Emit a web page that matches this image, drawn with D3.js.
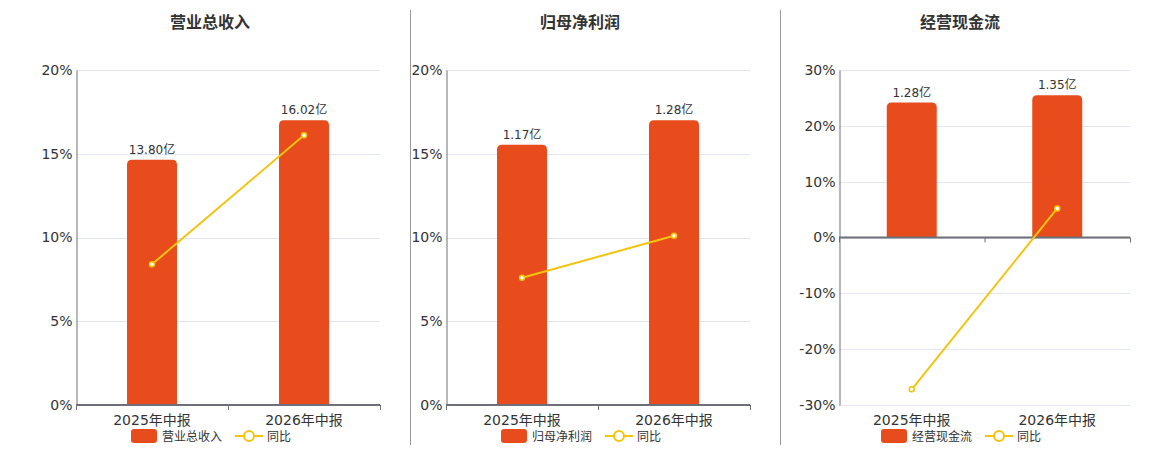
<!DOCTYPE html>
<html><head><meta charset="utf-8">
<script src="https://cdn.jsdelivr.net/npm/d3@7"></script>
<style>body{margin:0;background:#fff;}svg{display:block;font-family:"DejaVu Sans","Noto Sans CJK SC",sans-serif;}</style>
</head><body>
<svg id="c" width="1160" height="450"></svg>
<script>
const categories = ["2025年中报", "2026年中报"];
const titles = ["营业总收入", "归母净利润", "经营现金流"];
const barValues = [[13.80, 16.02], [1.17, 1.28], [1.28, 1.35]];
const barLabels = [["13.80亿", "16.02亿"], ["1.17亿", "1.28亿"], ["1.28亿", "1.35亿"]];
const yoyValues = [[8.4, 16.1], [7.6, 10.1], [-27.2, 5.2]];
const yDomains = [[0, 20], [0, 20], [-30, 30]];
const yTicks = [[0, 5, 10, 15, 20], [0, 5, 10, 15, 20], [-30, -20, -10, 0, 10, 20, 30]];
const lineLabel = "同比";

const layout = [
  {left: 76, right: 380, center: 210, divider: null},
  {left: 446, right: 750, center: 580, divider: 410},
  {left: 839, right: 1130, center: 960, divider: 780}
];
const plotTop = 70, plotBottom = 405;
const barColor = "#e84c1c", lineColor = "#f2c40f", textColor = "#333";

const svg = d3.select("#c");

titles.forEach((title, i) => {
  const L = layout[i];
  const g = svg.append("g");
  if (L.divider !== null) {
    g.append("line").attr("x1", L.divider + 0.5).attr("x2", L.divider + 0.5)
      .attr("y1", 10).attr("y2", 445).attr("stroke", "#999").attr("stroke-width", 1);
  }
  g.append("text").attr("x", L.center).attr("y", 28).attr("text-anchor", "middle")
    .attr("font-size", 16).attr("font-weight", "bold").attr("fill", textColor).text(title);

  const x = d3.scaleBand().domain(categories).range([L.left, L.right]);
  const y = d3.scaleLinear().domain(yDomains[i]).range([plotBottom, plotTop]);
  const zeroY = y(0);
  const bmax = d3.max(barValues[i]);
  const yb = d3.scaleLinear().domain([0, bmax / 0.85]).range([zeroY, plotTop]);

  // grid
  g.selectAll(".grid").data(yTicks[i]).join("line")
    .attr("x1", L.left).attr("x2", L.right)
    .attr("y1", d => Math.round(y(d)) + 0.5).attr("y2", d => Math.round(y(d)) + 0.5)
    .attr("stroke", "#e0e6f1").attr("stroke-width", 1);

  // y axis
  const yAxis = d3.axisLeft(y).tickValues(yTicks[i]).tickFormat(d => d + "%").tickSize(0).tickPadding(4);
  const ya = g.append("g").attr("transform", `translate(${L.left + 0.5},0)`).call(yAxis);
  ya.select(".domain").attr("stroke", "#6e7079");
  ya.selectAll("text").attr("font-size", 14).attr("fill", textColor)
    .attr("font-family", "DejaVu Sans, Noto Sans CJK SC, sans-serif");

  // bars
  const bw = 50;
  const r = 5;
  g.selectAll(".bar").data(barValues[i]).join("path")
    .attr("fill", barColor)
    .attr("d", (d, j) => {
      const x0 = x(categories[j]) + x.bandwidth() / 2 - bw / 2;
      const x1 = x0 + bw;
      const yt = yb(d), yz = zeroY;
      return `M${x0},${yz}L${x0},${yt + r}Q${x0},${yt} ${x0 + r},${yt}L${x1 - r},${yt}Q${x1},${yt} ${x1},${yt + r}L${x1},${yz}Z`;
    });
  g.selectAll(".blab").data(barValues[i]).join("text")
    .attr("x", (d, j) => x(categories[j]) + x.bandwidth() / 2)
    .attr("y", d => yb(d) - 6)
    .attr("text-anchor", "middle").attr("font-size", 12).attr("fill", textColor)
    .text((d, j) => barLabels[i][j]);

  // x axis
  g.append("line").attr("x1", L.left).attr("x2", L.right).attr("y1", zeroY).attr("y2", zeroY)
    .attr("stroke", "#6e7079").attr("stroke-width", 2);
  const tickXs = [L.left, (L.left + L.right) / 2, L.right];
  g.selectAll(".xt").data(tickXs).join("line")
    .attr("x1", d => d + 0.5).attr("x2", d => d + 0.5).attr("y1", zeroY).attr("y2", zeroY + 5)
    .attr("stroke", "#6e7079").attr("stroke-width", 1);
  g.selectAll(".xl").data(categories).join("text")
    .attr("x", d => x(d) + x.bandwidth() / 2).attr("y", 425)
    .attr("text-anchor", "middle").attr("font-size", 14).attr("fill", textColor).text(d => d);

  // line
  const line = d3.line().x((d, j) => x(categories[j]) + x.bandwidth() / 2).y(d => y(d));
  g.append("path").datum(yoyValues[i]).attr("d", line)
    .attr("fill", "none").attr("stroke", lineColor).attr("stroke-width", 2);
  g.selectAll(".pt").data(yoyValues[i]).join("circle")
    .attr("cx", (d, j) => x(categories[j]) + x.bandwidth() / 2).attr("cy", d => y(d))
    .attr("r", 2.5).attr("fill", "#fff").attr("stroke", lineColor).attr("stroke-width", 1.5);

  // legend
  const legW = 26 + 5 + title.length * 12 + 13 + 28 + 4 + 24;
  const lx = L.center + 1 - legW / 2;
  const ly = 436;
  g.append("rect").attr("x", lx).attr("y", ly - 7).attr("width", 26).attr("height", 14)
    .attr("rx", 3).attr("fill", barColor);
  g.append("text").attr("x", lx + 31).attr("y", ly + 4.5).attr("font-size", 12)
    .attr("fill", textColor).text(title);
  const l2 = lx + 31 + title.length * 12 + 13;
  g.append("line").attr("x1", l2).attr("x2", l2 + 28).attr("y1", ly).attr("y2", ly)
    .attr("stroke", lineColor).attr("stroke-width", 2);
  g.append("circle").attr("cx", l2 + 14).attr("cy", ly).attr("r", 5)
    .attr("fill", "#fff").attr("stroke", lineColor).attr("stroke-width", 2);
  g.append("text").attr("x", l2 + 32).attr("y", ly + 4.5).attr("font-size", 12)
    .attr("fill", textColor).text(lineLabel);
});
</script>
</body></html>
